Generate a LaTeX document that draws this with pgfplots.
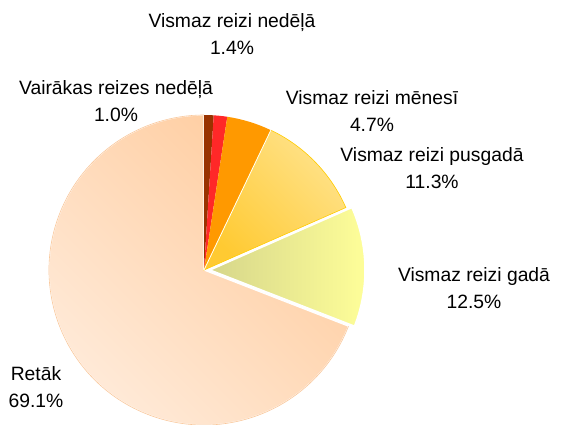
\documentclass[border=0pt]{standalone}
\usepackage{pgfplots}
\pgfplotsset{compat=1.18}
\usepackage{pgfplotstable}
\usepackage{fontspec}
\setmainfont{Liberation Sans}

\definecolor{cBrown}{RGB}{153,51,0}
\definecolor{cRed}{RGB}{255,40,40}
\definecolor{cOrange}{RGB}{255,153,0}
\definecolor{cPusLight}{RGB}{255,226,138}
\definecolor{cPusDark}{RGB}{255,202,50}
\definecolor{cPusLine}{RGB}{255,204,0}
\definecolor{cGadLeft}{RGB}{214,214,138}
\definecolor{cGadRight}{RGB}{255,255,153}
\definecolor{cRetLight}{RGB}{255,236,220}
\definecolor{cRetDark}{RGB}{255,204,158}
\definecolor{cRetLine}{RGB}{250,200,155}

% share of answers, percent, in clockwise order from 12 o'clock
\pgfplotstableread[col sep=comma]{
id,pct
1,1.0
2,1.4
3,4.7
4,11.3
5,12.5
6,69.1
}\piedata

\newcommand{\pieslice}[5]{% #1 start, #2 end, #3 style, #4 dx, #5 dy
  \path[#3] (axis cs:{204+#4},{154+#5}) -- ++(#1:155pt) arc[start angle=#1, end angle=#2, radius=155pt] -- cycle;
}

\begin{document}
\begin{tikzpicture}
\begin{axis}[hide axis, scale only axis, width=562pt, height=424pt,
  xmin=0, xmax=562, ymin=0, ymax=424, enlargelimits=false, clip=false]
\pgfplotstablegetelem{0}{pct}\of\piedata \let\pA\pgfplotsretval
\pgfplotstablegetelem{1}{pct}\of\piedata \let\pB\pgfplotsretval
\pgfplotstablegetelem{2}{pct}\of\piedata \let\pC\pgfplotsretval
\pgfplotstablegetelem{3}{pct}\of\piedata \let\pD\pgfplotsretval
\pgfplotstablegetelem{4}{pct}\of\piedata \let\pE\pgfplotsretval
\pgfplotstablegetelem{5}{pct}\of\piedata \let\pF\pgfplotsretval
\pgfmathsetmacro{\aA}{90-3.6*\pA}
\pgfmathsetmacro{\aB}{\aA-3.6*\pB}
\pgfmathsetmacro{\aC}{\aB-3.6*\pC}
\pgfmathsetmacro{\aD}{\aC-3.6*\pD}
\pgfmathsetmacro{\aE}{\aD-3.6*\pE}
\pgfmathsetmacro{\aF}{\aE-3.6*\pF}
% Retāk
\pieslice{\aE}{\aF}{top color=cRetDark, bottom color=cRetLight, shading angle=-45}{0}{0}
\pieslice{\aE}{\aF}{draw=white, line width=1.2pt}{0}{0}
\path[draw=cRetLine, line width=0.6pt] (axis cs:204,154) ++(\aE:155pt) arc[start angle=\aE, end angle=\aF, radius=155pt];
% brown, red, orange
\pieslice{90}{\aA}{fill=cBrown}{0}{0}
\pieslice{\aA}{\aB}{fill=cRed}{0}{0}
\pieslice{\aB}{\aC}{fill=cOrange}{0}{0}
% pusgadā
\pieslice{\aC}{\aD}{top color=cPusLight, bottom color=cPusDark, shading angle=-45}{0}{0}
\pieslice{\aC}{\aD}{draw=cPusLine, line width=0.6pt}{0}{0}
\draw[white, line width=0.8pt] (axis cs:204,154) -- ++(\aC:155pt);
% gadā (exploded)
\pieslice{\aD}{\aE}{left color=cGadLeft, right color=cGadRight, draw=white, line width=1.5pt}{6}{0}
\end{axis}
\node[align=center, font=\fontsize{19.3}{27}\selectfont] at (232pt,390pt) {Vismaz reizi nedēļā\\1.4\%};
\node[align=center, font=\fontsize{19.3}{27}\selectfont] at (116pt,323pt) {Vairākas reizes nedēļā\\1.0\%};
\node[align=center, font=\fontsize{19.3}{27}\selectfont] at (372pt,313pt) {Vismaz reizi mēnesī\\4.7\%};
\node[align=center, font=\fontsize{19.3}{27}\selectfont] at (432pt,256pt) {Vismaz reizi pusgadā\\11.3\%};
\node[align=center, font=\fontsize{19.3}{27}\selectfont] at (474pt,136pt) {Vismaz reizi gadā\\12.5\%};
\node[align=center, font=\fontsize{19.3}{27}\selectfont] at (36pt,37pt) {Retāk\\69.1\%};
\pgfresetboundingbox
\path (0pt,0pt) rectangle (562pt,424pt);
\end{tikzpicture}
\end{document}
